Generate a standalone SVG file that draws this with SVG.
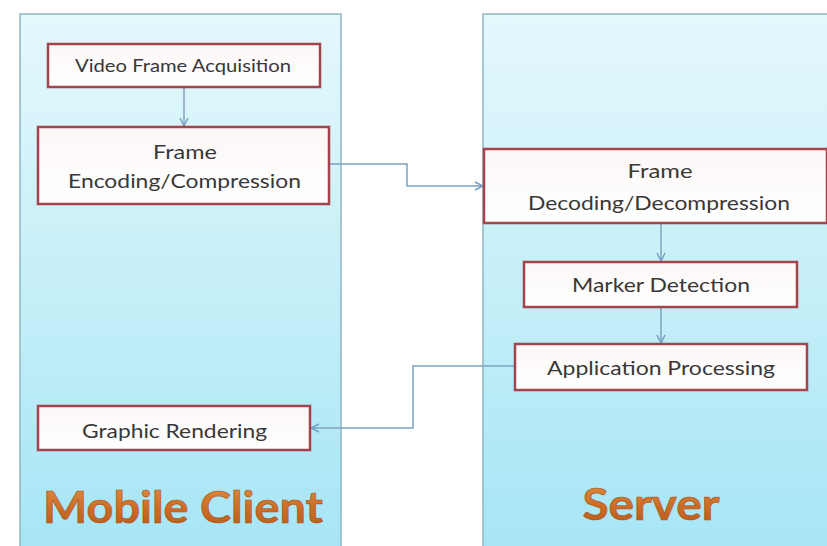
<svg xmlns="http://www.w3.org/2000/svg" width="827" height="546" viewBox="0 0 827 546">
  <defs>
    <linearGradient id="panelFill" x1="0" y1="0" x2="0" y2="1">
      <stop offset="0" stop-color="#e4f8fc"/>
      <stop offset="0.5" stop-color="#c6eff8"/>
      <stop offset="1" stop-color="#a6e5f6"/>
    </linearGradient>
    <linearGradient id="boxFill" x1="0" y1="0" x2="0" y2="1">
      <stop offset="0" stop-color="#fdf7f7"/>
      <stop offset="1" stop-color="#ffffff"/>
    </linearGradient>
    <linearGradient id="titleFill" x1="0" y1="0" x2="0" y2="1">
      <stop offset="0" stop-color="#e39048"/>
      <stop offset="0.55" stop-color="#cc6c24"/>
      <stop offset="1" stop-color="#b8581a"/>
    </linearGradient>
    <marker id="arrow" viewBox="0 0 10 10" refX="9" refY="5" markerWidth="10" markerHeight="10" markerUnits="userSpaceOnUse" orient="auto">
      <path d="M1,1 L9,5 L1,9" fill="none" stroke="#6f9fc2" stroke-width="1.4"/>
    </marker>
    <style>
      .panel { fill: url(#panelFill); stroke: #8fb6c2; stroke-width: 1.5; }
      .box { fill: url(#boxFill); stroke: #a5434c; stroke-width: 2.5; }
      .label { font-family: Lato, "Open Sans", "Liberation Sans", sans-serif; fill: #383838; text-anchor: middle; }
      .small { font-size: 16.5px; }
      .large { font-size: 19px; }
      .title { font-family: Lato, "Liberation Sans", sans-serif; font-weight: bold; font-size: 43px; fill: url(#titleFill); stroke: #a85218; stroke-width: 0.6; text-anchor: middle; }
      .conn { fill: none; stroke: #7fa3bd; stroke-width: 1.5; marker-end: url(#arrow); }
    </style>
  </defs>

  <rect width="827" height="546" fill="#ffffff"/>

  <!-- swimlanes -->
  <g id="lane-client">
    <rect class="panel" x="20" y="14" width="321" height="540"/>
    <text class="title" x="183" y="523" textLength="280" lengthAdjust="spacingAndGlyphs">Mobile Client</text>
  </g>
  <g id="lane-server">
    <rect class="panel" x="483" y="14" width="360" height="540"/>
    <text class="title" x="651" y="520" textLength="137" lengthAdjust="spacingAndGlyphs">Server</text>
  </g>

  <!-- connectors -->
  <g id="connectors">
    <path class="conn" d="M184,87 V126"/>
    <path class="conn" d="M329,164 H407 V186 H483"/>
    <path class="conn" d="M661,223 V261"/>
    <path class="conn" d="M661,307 V343"/>
    <path class="conn" d="M515,366 H413 V428 H311"/>
  </g>

  <!-- client nodes -->
  <g id="video-frame-acquisition">
    <rect class="box" x="48" y="44" width="272" height="43"/>
    <text class="label small" x="183" y="72" textLength="216" lengthAdjust="spacingAndGlyphs">Video Frame Acquisition</text>
  </g>
  <g id="frame-encoding">
    <rect class="box" x="38" y="127" width="291" height="77"/>
    <text class="label large" x="185" y="159" textLength="64" lengthAdjust="spacingAndGlyphs">Frame</text>
    <text class="label large" x="184.5" y="188" textLength="233" lengthAdjust="spacingAndGlyphs">Encoding/Compression</text>
  </g>
  <g id="graphic-rendering">
    <rect class="box" x="38" y="406" width="272" height="44"/>
    <text class="label large" x="174.5" y="438" textLength="185" lengthAdjust="spacingAndGlyphs">Graphic Rendering</text>
  </g>

  <!-- server nodes -->
  <g id="frame-decoding">
    <rect class="box" x="484" y="149" width="343" height="74"/>
    <text class="label large" x="660" y="178" textLength="65" lengthAdjust="spacingAndGlyphs">Frame</text>
    <text class="label large" x="659" y="210" textLength="262" lengthAdjust="spacingAndGlyphs">Decoding/Decompression</text>
  </g>
  <g id="marker-detection">
    <rect class="box" x="524" y="262" width="273" height="45"/>
    <text class="label large" x="661" y="292" textLength="178" lengthAdjust="spacingAndGlyphs">Marker Detection</text>
  </g>
  <g id="application-processing">
    <rect class="box" x="515" y="344" width="292" height="46"/>
    <text class="label large" x="661" y="375" textLength="228" lengthAdjust="spacingAndGlyphs">Application Processing</text>
  </g>
</svg>
